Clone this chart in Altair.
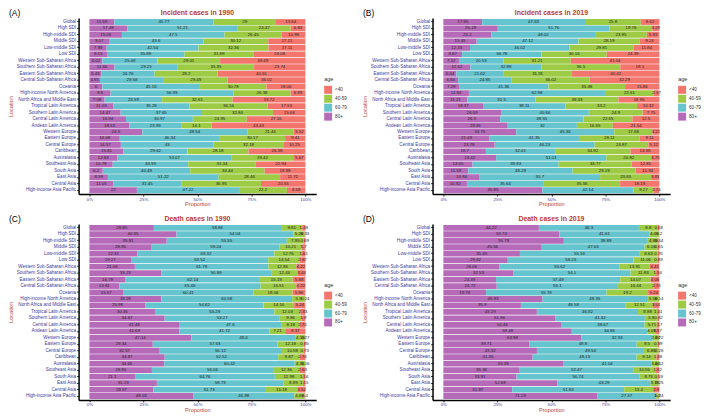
import altair as alt
import pandas as pd

locations = ["Global", "High SDI", "High-middle SDI", "Middle SDI", "Low-middle SDI", "Low SDI",
             "Western Sub-Saharan Africa", "Southern Sub-Saharan Africa", "Eastern Sub-Saharan Africa",
             "Central Sub-Saharan Africa", "Oceania", "High-income North America",
             "North Africa and Middle East", "Tropical Latin America", "Southern Latin America",
             "Central Latin America", "Andean Latin America", "Western Europe", "Eastern Europe",
             "Central Europe", "Caribbean", "Australasia", "Southeast Asia", "South Asia", "East Asia",
             "Central Asia", "High-income Asia Pacific"]

ages = ["<40", "40-59", "60-79", "80+"]
stack_order = ["80+", "60-79", "40-59", "<40"]
colors = ["#F3766E", "#9DCB45", "#66C4CE", "#B66BB9"]

# Incident cases 1990
A80 = [11.59, 17.49, 15.06, 9.07, 7.99, 8.15, 6.02, 11.66, 5.43, 4.91, 6, 9.8, 7.08, 11.03, 14.47, 16.94, 18.53, 24.5, 14.08, 14.57, 15.81, 12.84, 10.79, 6.2, 8.59, 11.05, 22]
A60 = [45.77, 51.21, 47.5, 43.6, 42.54, 35.88, 25.48, 29.25, 24.76, 29.58, 45.16, 56.93, 26.59, 35.28, 37.65, 30.97, 23.93, 48.54, 46.34, 43, 29.62, 53.07, 34.93, 40.48, 51.22, 31.45, 47.22]
A40 = [29, 24.47, 26.45, 30.12, 32.36, 31.89, 29.01, 35.35, 29.2, 29.49, 30.78, 26.38, 32.61, 36.16, 32.84, 24.95, 14.1, 21.44, 30.17, 32.18, 28.18, 28.42, 31.34, 34.44, 28.46, 36.95, 22.2]
A00 = [13.64, 6.83, 10.99, 17.21, 17.11, 24.08, 39.49, 23.74, 40.61, 36.02, 18.06, 6.89, 33.72, 17.53, 15.04, 27.16, 43.43, 5.52, 9.41, 10.25, 26.38, 5.67, 22.94, 18.88, 11.72, 20.55, 8.58]

# Incident cases 2019
B80 = [17.95, 25.19, 22.2, 15.45, 12.33, 8.67, 7.22, 12.52, 6.04, 6.84, 7.29, 11.84, 11.21, 18.37, 26.69, 26.3, 29.81, 33.75, 21.43, 23.78, 19.7, 24.42, 13.55, 11.58, 16.84, 10.92, 45.85]
B60 = [47.63, 51.76, 48.02, 47.12, 46.02, 36.78, 20.53, 32.88, 21.62, 24.85, 41.36, 62.98, 31.5, 38.11, 40.66, 38.55, 32, 45.36, 41.35, 46.23, 32.01, 51.01, 39.83, 48.29, 55.7, 35.64, 42.14]
B40 = [25.8, 19.76, 23.95, 28.19, 29.81, 30.16, 31.21, 36.5, 31.91, 36.02, 35.48, 22.61, 38.33, 33.2, 24.9, 22.65, 16.65, 17.68, 28.11, 24.87, 34.92, 20.82, 33.77, 29.19, 23.65, 35.36, 9.27]
B00 = [8.62, 3.29, 5.83, 9.24, 11.84, 24.39, 41.04, 18.1, 40.42, 32.29, 15.86, 2.57, 18.96, 10.32, 7.75, 12.5, 21.54, 3.21, 9.11, 5.12, 13.38, 3.75, 12.85, 10.94, 3.81, 18.19, 2.74]

# Death cases 1990
C80 = [29.85, 40.35, 35.81, 28.85, 22.31, 19.27, 21.06, 33.23, 16.79, 13.81, 15.57, 33.28, 25.98, 30.35, 34.87, 41.48, 41.69, 47.14, 29.34, 32.57, 34.87, 34.66, 28.95, 21.1, 31.23, 29.57, 48.03]
C60 = [58.86, 54.04, 55.55, 59.24, 63.32, 63.52, 61.79, 50.88, 62.14, 65.46, 60.41, 60.58, 54.62, 55.29, 53.27, 47.6, 41.72, 48.4, 57.63, 56.12, 52.52, 60.42, 56.06, 64.76, 58.73, 51.73, 46.88]
C40 = [9.81, 5.28, 7.95, 10.21, 12.76, 14.54, 12.93, 12.44, 15.19, 16.51, 18.06, 5.9, 14.16, 12.03, 9.96, 8.18, 7.21, 4.18, 12.18, 10.58, 9.87, 4.76, 12.36, 12.98, 8.89, 15.18, 4.69]
C00 = [1.48, 0.33, 0.69, 1.7, 1.61, 2.67, 4.22, 3.44, 5.88, 4.22, 5.96, 0.24, 5.24, 2.33, 1.9, 2.74, 9.37, 0.27, 0.85, 0.73, 2.74, 0.16, 2.63, 1.16, 1.15, 3.52, 0.4]

# Death cases 2019
D80 = [44.22, 53.74, 55.78, 45.56, 35.45, 29.82, 26.06, 32.53, 24.39, 24.72, 19.78, 45.93, 35.9, 43.29, 51.96, 54.46, 59.48, 63.98, 39.71, 43.32, 41.35, 55.38, 35.36, 33.91, 52.68, 31.87, 71.19]
D60 = [46.3, 41.61, 38.89, 47.63, 55.16, 58.23, 55.62, 54.1, 57.49, 56.1, 55.78, 48.35, 48.58, 46.82, 41.32, 38.67, 34.86, 32.93, 49.8, 49.54, 48.13, 41.04, 52.47, 56.74, 43.29, 51.83, 27.37]
D40 = [8.8, 4.45, 4.89, 6.16, 8.63, 11.06, 13.91, 11.83, 14.07, 16.44, 19.2, 5.58, 12.51, 8.88, 5.9, 5.7, 4.09, 2.87, 9.5, 6.86, 9.14, 3.46, 10.55, 8.76, 3.78, 13.4, 1.2]
D00 = [0.68, 0.2, 0.44, 0.65, 0.76, 0.89, 4.41, 1.54, 4.05, 2.74, 5.24, 0.14, 3.01, 1.01, 0.82, 1.17, 1.57, 0.22, 0.99, 0.28, 1.38, 0.12, 1.62, 0.59, 0.25, 2.9, 0.24]

RED = "#C0392B"
NAVY = "#3A3A9A"
W = 239
H = 177
FONT = "Liberation Sans"


def build_df(v80, v60, v40, v00):
    rows = []
    for i, loc in enumerate(locations):
        vals = [v80[i], v60[i], v40[i], v00[i]]
        total = sum(vals)
        start = 0.0
        for j, (age, v) in enumerate(zip(stack_order, vals)):
            end = start + v / total
            rows.append(dict(location=loc, age=age, x0=start, x1=end,
                             mid=(start + end) / 2, label=str(v), order=j))
            start = end
    return pd.DataFrame(rows)


def panel(v80, v60, v40, v00, title, tag):
    df = build_df(v80, v60, v40, v00)
    xscale = alt.Scale(domain=[-0.05, 1.05], nice=False, zero=False)
    xaxis = alt.Axis(values=[0, 0.25, 0.5, 0.75, 1], format=".0%", title="Proportion",
                     labelFontSize=4.4, labelColor=NAVY, titleColor=RED, titleFontSize=5.6,
                     titleFontWeight="normal", tickSize=2, labelPadding=1, titlePadding=1,
                     labelFlush=False)
    yscale = alt.Scale(paddingInner=0.1, paddingOuter=0.15)
    yaxis = alt.Axis(title="Location", labelFontSize=4.6, labelColor=NAVY, titleColor=RED,
                     titleFontSize=5.6, titleFontWeight="normal", tickSize=2, labelPadding=1,
                     titlePadding=2, labelLimit=200)
    base = alt.Chart(df)
    bars = base.mark_bar().encode(
        x=alt.X("x0:Q", scale=xscale, axis=xaxis),
        x2="x1:Q",
        y=alt.Y("location:N", sort=locations, scale=yscale, axis=yaxis),
        color=alt.Color("age:N", scale=alt.Scale(domain=ages, range=colors),
                        legend=alt.Legend(orient="none", legendX=W + 8, legendY=H / 2 - 29,
                                          title="age", symbolType="square", symbolSize=64,
                                          symbolStrokeWidth=0, symbolOpacity=1,
                                          labelFontSize=4.6, titleFontSize=5.6,
                                          titleFontWeight="normal", rowPadding=1,
                                          titlePadding=3, labelOffset=3,
                                          labelColor="#333333", titleColor="#333333")),
        order="order:Q",
    )
    texts = base.mark_text(fontSize=4.4, color="#222222").encode(
        x=alt.X("mid:Q", scale=xscale, axis=xaxis),
        y=alt.Y("location:N", sort=locations, scale=yscale, axis=yaxis),
        text="label:N",
    )
    tagc = alt.Chart(pd.DataFrame({"t": [tag]})).mark_text(
        align="left", baseline="middle", fontSize=8.5, color="black").encode(
        text="t:N", x=alt.value(-70), y=alt.value(-5))
    return alt.layer(bars, texts, tagc).properties(
        width=W, height=H,
        title=alt.TitleParams(title, anchor="middle", fontSize=7, fontWeight="bold",
                              color=RED, offset=-7))


pA = panel(A80, A60, A40, A00, "Incident cases in 1990", "(A)")
pB = panel(B80, B60, B40, B00, "Incident cases in 2019", "(B)")
pC = panel(C80, C60, C40, C00, "Death cases in 1990", "(C)")
pD = panel(D80, D60, D40, D00, "Death cases in 2019", "(D)")

top = alt.hconcat(pA, pB, spacing=15).resolve_scale(color="independent")
bot = alt.hconcat(pC, pD, spacing=15).resolve_scale(color="independent")

chart = alt.vconcat(top, bot, spacing=8).resolve_scale(color="independent").properties(
    padding=0
).configure(font=FONT).configure_view(strokeWidth=0).configure_axis(
    domainColor="black", domainWidth=1.5, tickColor="#333333", tickWidth=1, grid=False
)

chart.save("out.html", embed_options={"renderer": "svg", "actions": False})
